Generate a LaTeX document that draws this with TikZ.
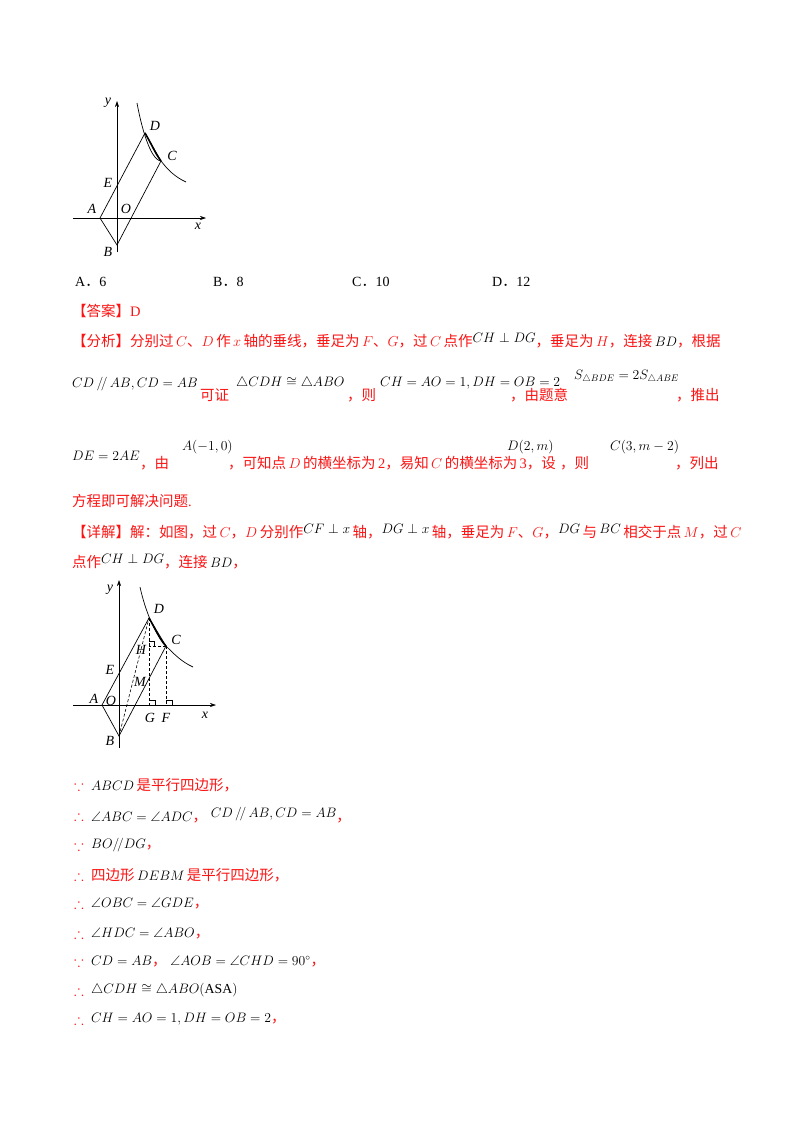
\documentclass[tikz,border=0pt]{standalone}
\usepackage{amssymb}
\usepackage{graphicx}
\usepackage{fontspec}
\usetikzlibrary{arrows.meta}
\setmainfont{Liberation Serif}
\newfontfamily\cjk{Noto Sans CJK SC}
\newcommand\z[1]{{\cjk #1}}
\newcommand\bk[1]{\scalebox{0.95}{\textcolor{black}{#1}}}
\newcommand\up[1]{\raisebox{4pt}{\bk{#1}}}
\definecolor{rd}{RGB}{250,20,20}
\begin{document}
\begin{tikzpicture}[x=1pt,y=-1pt,
  txt/.style={anchor=west,inner sep=0pt,font=\fontsize{14.5}{16}\selectfont,text=rd},
  otxt/.style={anchor=west,inner sep=0pt,font=\fontsize{14}{16}\selectfont,text=black},
  lab/.style={inner sep=0pt,font=\fontsize{14}{16}\selectfont\itshape},
  ax/.style={line width=0.6pt,-{Stealth[length=6pt,width=4pt]}},
  ln/.style={line width=0.7pt},
  dsh/.style={line width=0.6pt,dashed,dash pattern=on 3pt off 2pt}]
\useasboundingbox (0,0) rectangle (800,1132);
% ---------- figure 1 ----------
\coordinate (A1) at (100,218); \coordinate (B1) at (117,245);
\coordinate (C1) at (161,161); \coordinate (D1) at (145,133);
\coordinate (E1) at (117,185);
\draw[ax] (73,218) -- (206,218);
\draw[ax] (117,252) -- (117,101);
\draw[ln] (A1) -- (D1) -- (C1) -- (B1) -- cycle;
\draw[ln] (137,103) .. controls (141,125) and (150,160) .. (C1) .. controls (168,170) and (175,177) .. (186,182);
\draw[line width=1.6pt] (D1) .. controls (152,145) and (155,153) .. (C1);
\node[lab] at (108,103) {y};
\node[lab] at (155,126) {D};
\node[lab] at (172,156) {C};
\node[lab] at (108,183) {E};
\node[lab] at (92,209) {A};
\node[lab] at (126,209) {O};
\node[lab] at (198,226) {x};
\node[lab] at (108,252) {B};
% options
\node[otxt] at (75,282) {A\z{．}6};
\node[otxt] at (213,282) {B\z{．}8};
\node[otxt] at (352,282) {C\z{．}10};
\node[otxt] at (492,282) {D\z{．}12};
\node[txt] at (72,311) {\z{【答案】}D};
\node[txt] at (72,341) {\z{【分析】分别过}\,$C$\z{、}$D$\,\z{作}\,$x$\,\z{轴的垂线，垂足为}\,$F$\z{、}$G$\z{，过}\,$C$\,\z{点作}\up{$CH\perp DG$}\z{，垂足为}\,$H$\z{，连接}\,\bk{$BD$}\z{，根据}};
% line 2
\node[txt] at (72,384) {\bk{$CD\,/\!/\,AB,CD=AB$}};
\node[txt] at (200,395) {\z{可证}};
\node[txt] at (236,383) {\bk{$\triangle CDH\cong\triangle ABO$}};
\node[txt] at (347,395) {\z{，则}};
\node[txt] at (380,383) {\bk{$CH=AO=1,DH=OB=2$}};
\node[txt] at (510,395) {\z{，由题意}};
\node[txt] at (574,377) {\bk{$S_{\triangle BDE}=2S_{\triangle ABE}$}};
\node[txt] at (676,395) {\z{，推出}};
% line 3
\node[txt] at (72,456) {\bk{$DE=2AE$}};
\node[txt] at (140,463) {\z{，由}};
\node[txt] at (182,447) {\bk{$A(-1,0)$}};
\node[txt] at (228,463) {\z{，可知点}\,$D$\,\z{的横坐标为}\,2\z{，易知}\,$C$\,\z{的横坐标为}\,3\z{，设}};
\node[txt] at (507,447) {\bk{$D(2,m)$}};
\node[txt] at (560,463) {\z{，则}};
\node[txt] at (610,447) {\bk{$C(3,m-2)$}};
\node[txt] at (675,463) {\z{，列出}};
\node[txt] at (72,501) {\z{方程即可解决问题}.};
\node[txt] at (72,532) {\z{【详解】解：如图，过}\,$C$\z{，}$D$\,\z{分别作}\up{$CF\perp x$}\,\z{轴，}\up{$DG\perp x$}\,\z{轴，垂足为}\,$F$\z{、}$G$\z{，}\up{$DG$}\,\z{与}\,\up{$BC$}\,\z{相交于点}\,$M$\z{，过}\,$C$};
\node[txt] at (72,562) {\z{点作}\up{$CH\perp DG$}\z{，连接}\,\bk{$BD$}\z{，}};
% ---------- figure 2 ----------
\coordinate (A2) at (102,705); \coordinate (B2) at (119,736);
\coordinate (C2) at (166,646); \coordinate (D2) at (149,618);
\coordinate (G2) at (149,705); \coordinate (F2) at (166,705);
\coordinate (H2) at (149,646); \coordinate (M2) at (149,678.6);
\draw[ax] (73,705) -- (216,705);
\draw[ax] (119,748) -- (119,580);
\draw[ln] (A2) -- (D2) -- (C2) -- (B2) -- cycle;
\draw[dsh] (B2) -- (D2);
\draw[dsh] (D2) -- (G2);
\draw[dsh] (C2) -- (F2);
\draw[dsh] (C2) -- (H2);
\draw[line width=0.5pt] (149,641) -- (154,641) -- (154,646);
\draw[line width=0.5pt] (149,700) -- (155,700) -- (155,705);
\draw[line width=0.5pt] (166,700) -- (172,700) -- (172,705);
\draw[ln] (140,587) .. controls (144,605) and (152,630) .. (C2) .. controls (175,655) and (182,662) .. (193,667);
\draw[line width=1.6pt] (D2) .. controls (156,630) and (160,640) .. (C2);
\node[lab] at (110,590) {y};
\node[lab] at (159,609) {D};
\node[lab] at (176,640) {C};
\node[lab] at (141,650) {H};
\node[lab] at (110,670) {E};
\node[lab] at (140,682) {M};
\node[lab] at (94,699) {A};
\node[lab] at (111,701) {O};
\node[lab] at (150,718) {G};
\node[lab] at (166,718) {F};
\node[lab] at (205,715) {x};
\node[lab] at (110,741) {B};
% ---------- proof lines ----------
\node[txt] at (74,785) {$\because$};
\node[txt] at (91,785) {\bk{$ABCD$}\,\z{是平行四边形，}};
\node[txt] at (74,815) {$\therefore$};
\node[txt] at (91,815) {\bk{$\angle ABC=\angle ADC$}\z{，}\ \up{$CD\,/\!/\,AB,CD=AB$}\z{，}};
\node[txt] at (74,845) {$\because$};
\node[txt] at (91,845) {\bk{$BO/\!/DG$}\z{，}};
\node[txt] at (74,875) {$\therefore$};
\node[txt] at (91,875) {\z{四边形}\,\bk{$DEBM$}\,\z{是平行四边形，}};
\node[txt] at (74,903) {$\therefore$};
\node[txt] at (91,903) {\bk{$\angle OBC=\angle GDE$}\z{，}};
\node[txt] at (74,933) {$\therefore$};
\node[txt] at (91,933) {\bk{$\angle HDC=\angle ABO$}\z{，}};
\node[txt] at (74,961) {$\because$};
\node[txt] at (91,961) {\bk{$CD=AB$}\z{，}\ \bk{$\angle AOB=\angle CHD=90^\circ$}\z{，}};
\node[txt] at (74,990) {$\therefore$};
\node[txt] at (91,990) {\bk{$\triangle CDH\cong\triangle ABO(\mathrm{ASA})$}};
\node[txt] at (74,1019) {$\therefore$};
\node[txt] at (91,1019) {\bk{$CH=AO=1,DH=OB=2$}\z{，}};
\end{tikzpicture}
\end{document}
